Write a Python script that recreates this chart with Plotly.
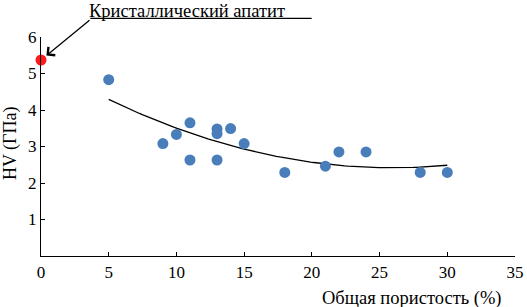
import numpy as np
import plotly.graph_objects as go

porosity = [5, 9, 10, 11, 11, 13, 13, 13, 14, 15, 18, 21, 22, 24, 28, 30]
hardness = [4.83, 3.08, 3.33, 3.65, 2.63, 3.48, 3.35, 2.63, 3.49, 3.08, 2.29, 2.46, 2.85, 2.85, 2.29, 2.29]
apatite_x = [0]
apatite_y = [5.37]
x_ticks = [0, 5, 10, 15, 20, 25, 30, 35]
y_ticks = [1, 2, 3, 4, 5, 6]
annot_text = "Кристаллический апатит"
x_title = "Общая пористость (%)"
y_title = "HV (ГПа)"

coef = np.polyfit(porosity, hardness, 2)
xt = np.linspace(min(porosity), max(porosity), 100)
yt = np.polyval(coef, xt)

font = "Liberation Serif, Times New Roman, serif"

fig = go.Figure()
fig.add_trace(go.Scatter(x=xt, y=yt, mode="lines", line=dict(color="black", width=1.3),
                         hoverinfo="skip", showlegend=False))
fig.add_trace(go.Scatter(x=porosity, y=hardness, mode="markers",
                         marker=dict(color="#4a7ebb", size=11), showlegend=False, cliponaxis=False))
fig.add_trace(go.Scatter(x=apatite_x, y=apatite_y, mode="markers",
                         marker=dict(color="#ff1a1a", size=11), showlegend=False, cliponaxis=False))

axis_common = dict(showgrid=False, zeroline=False, showline=True, linecolor="black", linewidth=1.3,
                   ticks="inside", ticklen=4, tickwidth=1.3, tickcolor="black", automargin=False,
                   tickfont=dict(family=font, size=17, color="black"))
fig.update_xaxes(range=[0, 35], tickvals=x_ticks, **axis_common)
fig.update_yaxes(range=[0, 6], tickvals=y_ticks, **axis_common)

fig.add_annotation(xref="paper", yref="paper", x=0.976, y=-0.192, xanchor="right", yanchor="middle",
                   text=x_title, showarrow=False, font=dict(family=font, size=18.5, color="black"))
fig.add_annotation(xref="paper", yref="paper", x=-0.064, y=0.514, xanchor="center", yanchor="middle",
                   text=y_title, textangle=-90, showarrow=False, font=dict(family=font, size=18, color="black"))

# label above the leader line
fig.add_annotation(xref="paper", yref="paper", x=0.1, y=1.169, xanchor="left", yanchor="top",
                   text=annot_text, showarrow=False, borderpad=0,
                   font=dict(family=font, size=18.5, color="black"))
fig.add_shape(type="line", xref="paper", yref="paper", x0=0.104, x1=0.571, y0=1.085, y1=1.085,
              line=dict(color="black", width=1.3))
fig.add_annotation(x=0, y=5.37, xref="x", yref="y", ax=50, ay=-41, text="", showarrow=True,
                   arrowhead=4, arrowsize=1.6, arrowwidth=1.3, arrowcolor="black", standoff=7)

fig.update_layout(width=527, height=307, margin=dict(l=40.5, r=12, t=37, b=51),
                  plot_bgcolor="white", paper_bgcolor="white")
fig.write_html("out.html", config={"displayModeBar": False},
               post_script="document.body.style.margin='0';")
